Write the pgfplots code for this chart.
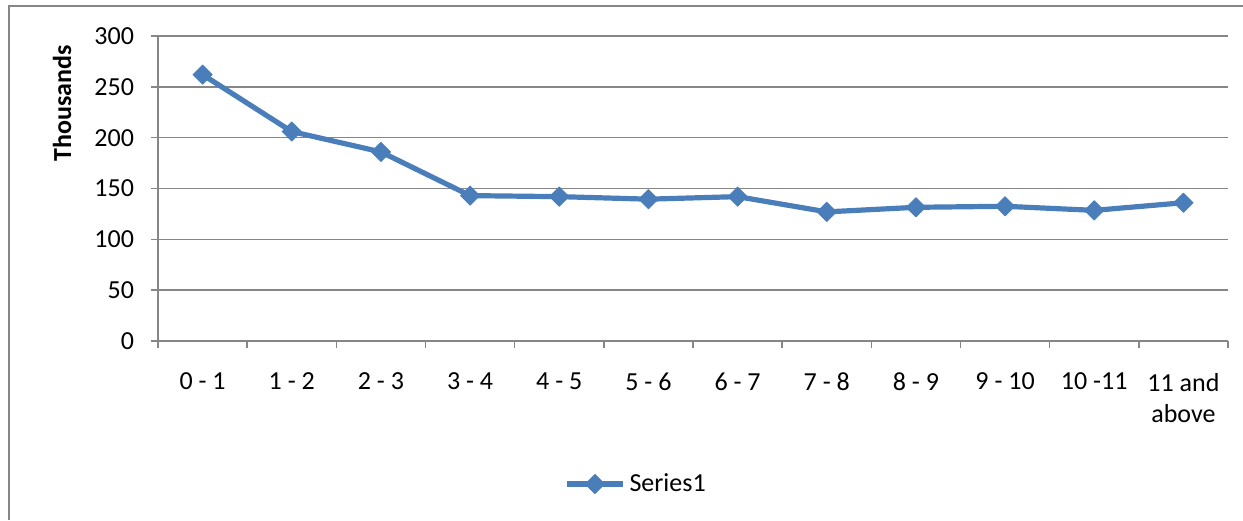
\documentclass[border=0pt]{standalone}
\usepackage{fontspec}
\setmainfont{Carlito}
\usepackage{pgfplots}
\pgfplotsset{compat=1.18}
\definecolor{gridgray}{HTML}{868686}
\definecolor{serblue}{HTML}{4A7EBB}
\begin{document}
\fontsize{13}{15.6}\selectfont
\begin{tikzpicture}
\useasboundingbox (0,0) rectangle (621.5pt,260pt);
% chart area frame (only left and top edges are visible)
\draw[gridgray, line width=0.6pt] (4.5pt,0) -- (4.5pt,257pt) -- (621.5pt,257pt);
\begin{axis}[
  at={(79pt,89.5pt)}, anchor=south west,
  scale only axis, width=535pt, height=152.5pt,
  xmin=-0.5, xmax=11.5, ymin=0, ymax=300,
  axis x line*=bottom, axis y line*=left,
  axis line style={-, gridgray, line width=0.7pt},
  tick align=outside,
  xtick={0,...,11},
  xticklabels={0 - 1,1 - 2,2 - 3,3 - 4,4 - 5,5 - 6,6 - 7,7 - 8,8 - 9,9 - 10,10 -11,{11 and\\above}},
  xticklabel style={align=center, yshift=-8pt, text=black},
  major x tick style={draw=none},
  minor xtick={-0.5,0.5,...,11.5},
  minor x tick style={gridgray, line width=0.7pt},
  minor tick length=3.5pt,
  ytick={0,50,...,300},
  major tick length=3.5pt,
  y tick style={gridgray, line width=0.7pt},
  yticklabel style={xshift=-4pt, text=black},
  /pgf/number format/assume math mode=true,
  ymajorgrids,
  major grid style={gridgray, line width=0.7pt},
  ylabel={Thousands},
  ylabel style={at={(axis description cs:-0.0897,0.780)}, anchor=center, font=\bfseries},
  legend style={at={(axis description cs:0.4477,-0.469)}, anchor=center, draw=none, fill=none},
  legend image code/.code={\draw[mark repeat=2,mark phase=2] plot coordinates {(0pt,0pt)(14pt,0pt)(28pt,0pt)};},
]
\addplot[serblue, line width=2.6pt, line join=round, mark=square*, mark size=3.4pt,
  mark options={rotate=45, line width=0.4pt, fill=serblue}]
  coordinates {(0,262) (1,206) (2,186) (3,143) (4,142) (5,139.5) (6,142) (7,127) (8,131.5) (9,132.5) (10,128.5) (11,136)};
\legend{Series1}
\end{axis}
\end{tikzpicture}
\end{document}
